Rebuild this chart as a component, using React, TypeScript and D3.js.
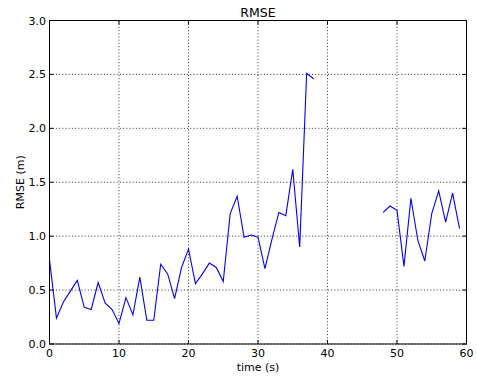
import React from "react";
import * as d3 from "d3";

// RMSE over time; null marks seconds with no estimate
const times: number[] = d3.range(0, 60);
const rmse: (number | null)[] = [
  0.78, 0.24, 0.39, 0.49, 0.59, 0.34, 0.32, 0.57, 0.38, 0.32,
  0.19, 0.43, 0.27, 0.62, 0.22, 0.22, 0.74, 0.65, 0.42, 0.71,
  0.88, 0.56, 0.65, 0.75, 0.71, 0.58, 1.21, 1.37, 0.99, 1.01,
  0.99, 0.70, 0.97, 1.22, 1.19, 1.62, 0.90, 2.51, 2.46, null,
  null, null, null, null, null, null, null, null, 1.22, 1.28,
  1.24, 0.72, 1.35, 0.96, 0.77, 1.21, 1.42, 1.13, 1.40, 1.07,
];
const xTicks: number[] = [0, 10, 20, 30, 40, 50, 60];
const yTicks: number[] = [0, 0.5, 1, 1.5, 2, 2.5, 3];

const W = 477;
const H = 379;
const M = { left: 49.5, right: 466.5, top: 20.5, bottom: 344 };
const FONT = "DejaVu Sans, sans-serif";

export default function App() {
  const x = d3.scaleLinear().domain([0, 60]).range([M.left, M.right]);
  const y = d3.scaleLinear().domain([0, 3]).range([M.bottom, M.top]);

  const points = times.map((t, i) => ({ t, v: rmse[i] }));
  const line = d3
    .line<{ t: number; v: number | null }>()
    .defined((d) => d.v !== null)
    .x((d) => x(d.t))
    .y((d) => y(d.v as number));

  const tickLen = 4;

  return (
    <svg
      width={W}
      height={H}
      style={{ position: "absolute", left: 0, top: 0, background: "#fff" }}
      fontFamily={FONT}
    >
      <rect x={0} y={0} width={W} height={H} fill="#fff" />
      {/* grid */}
      <g stroke="#000" strokeWidth={0.8} strokeDasharray="1,2.2">
        {xTicks.map((t) => (
          <line key={"gx" + t} x1={x(t)} x2={x(t)} y1={M.top} y2={M.bottom} />
        ))}
        {yTicks.map((t) => (
          <line key={"gy" + t} x1={M.left} x2={M.right} y1={y(t)} y2={y(t)} />
        ))}
      </g>
      {/* data */}
      <path d={line(points) ?? ""} fill="none" stroke="#0000ff" strokeWidth={1.1} />
      {/* ticks, pointing inward on all four sides */}
      <g stroke="#000" strokeWidth={1}>
        {xTicks.map((t) => (
          <g key={"tx" + t}>
            <line x1={x(t)} x2={x(t)} y1={M.bottom} y2={M.bottom - tickLen} />
            <line x1={x(t)} x2={x(t)} y1={M.top} y2={M.top + tickLen} />
          </g>
        ))}
        {yTicks.map((t) => (
          <g key={"ty" + t}>
            <line x1={M.left} x2={M.left + tickLen} y1={y(t)} y2={y(t)} />
            <line x1={M.right} x2={M.right - tickLen} y1={y(t)} y2={y(t)} />
          </g>
        ))}
      </g>
      {/* frame */}
      <rect
        x={M.left}
        y={M.top}
        width={M.right - M.left}
        height={M.bottom - M.top}
        fill="none"
        stroke="#000"
        strokeWidth={1}
      />
      {/* tick labels */}
      <g fontSize={11} fill="#000">
        {xTicks.map((t) => (
          <text key={"lx" + t} x={x(t)} y={357} textAnchor="middle">
            {d3.format("d")(t)}
          </text>
        ))}
        {yTicks.map((t) => (
          <text key={"ly" + t} x={46} y={y(t) + 4} textAnchor="end">
            {d3.format(".1f")(t)}
          </text>
        ))}
      </g>
      <text x={(M.left + M.right) / 2} y={16.5} textAnchor="middle" fontSize={12.5}>
        RMSE
      </text>
      <text x={(M.left + M.right) / 2} y={371} textAnchor="middle" fontSize={11}>
        time (s)
      </text>
      <text
        transform={`translate(24, ${(M.top + M.bottom) / 2}) rotate(-90)`}
        textAnchor="middle"
        fontSize={11}
      >
        RMSE (m)
      </text>
    </svg>
  );
}
